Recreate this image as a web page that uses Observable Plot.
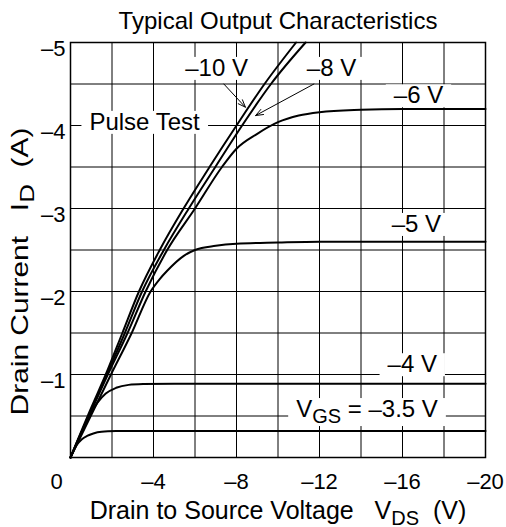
<!DOCTYPE html>
<html>
<head>
<meta charset="utf-8">
<style>
  body { margin: 0; background: #fff; }
  svg text { white-space: pre; }
</style>
<script src="https://cdn.jsdelivr.net/npm/d3@7"></script>
<script src="https://cdn.jsdelivr.net/npm/@observablehq/plot@0.6"></script>
</head>
<body>
<div id="chart"></div>
<script>
// ---- Data (VDS in V, ID in A) ----
const vdsM10 = [0, -1.0, -1.7, -2.5, -3.3, -4.3, -5.45, -6.7, -8.0, -9.35, -10.87];
const idM10  = [0, -0.6, -1.0, -1.5, -2.0, -2.5, -3.0, -3.5, -4.0, -4.5, -5.0];

const vdsM8 = [0, -1.75, -2.62, -3.45, -4.5, -5.7, -6.98, -8.27, -9.66, -11.33];
const idM8  = [0, -1.0, -1.5, -2.0, -2.5, -3.0, -3.5, -4.0, -4.5, -5.0];

const vdsM6 = [0, -1.8, -2.75, -3.62, -4.66, -6.0, -7.3, -8.0, -9.0, -10.0, -11.0, -12.0, -14.0, -16.0, -20.0];
const idM6  = [0, -1.0, -1.5, -2.0, -2.5, -3.0, -3.5, -3.72, -3.9, -4.04, -4.12, -4.16, -4.19, -4.2, -4.2];

const vdsM5 = [0, -1.95, -2.95, -3.86, -4.3, -4.66, -5.46, -6.0, -7.0, -8.0, -10.0, -12.0, -20.0];
const idM5  = [0, -1.0, -1.5, -2.0, -2.15, -2.25, -2.43, -2.5, -2.55, -2.575, -2.59, -2.6, -2.6];

const vdsM4 = [0, -0.5, -0.9, -1.3, -1.7, -2.2, -2.8, -3.5, -5.0, -20.0];
const idM4  = [0, -0.29, -0.5, -0.66, -0.77, -0.84, -0.875, -0.885, -0.89, -0.89];

const vdsM35 = [0, -0.3, -0.55, -0.8, -1.1, -1.5, -2.2, -3.0, -20.0];
const idM35  = [0, -0.15, -0.22, -0.26, -0.29, -0.31, -0.318, -0.32, -0.32];

const vgsNames = ["–10 V", "–8 V", "–6 V", "–5 V", "–4 V", "–3.5 V"];

// axis ticks and grid
const xTicks = [0, -4, -8, -12, -16, -20];
const yTicks = [-1, -2, -3, -4, -5];
const xGrid = [-2, -4, -6, -8, -10, -12, -14, -16, -18];
const yGrid = [-0.5, -1, -1.5, -2, -2.5, -3, -3.5, -4, -4.5];

// annotations
const noteText = ["–10 V", "–8 V", "–6 V", "Pulse Test", "–5 V", "–4 V", "V_{GS} = –3.5 V"];
const noteVds  = [-7.04, -12.58, -16.77, -3.57, -16.67, -16.47, -14.29];
const noteId   = [-4.69, -4.69, -4.36, -4.04, -2.81, -1.12, -0.58];

const arrowVds1 = [-7.39, -11.73];
const arrowId1  = [-4.50, -4.50];
const arrowVds2 = [-8.43, -8.92];
const arrowId2  = [-4.22, -4.12];

const titleText = "Typical Output Characteristics";
const xLabelText = "Drain to Source Voltage   V_{DS}  (V)";
const yLabelText = "Drain Current   I_{D}  (A)";

// ---- Build tables ----
const curveSets = [
  [vgsNames[0], vdsM10, idM10],
  [vgsNames[1], vdsM8, idM8],
  [vgsNames[2], vdsM6, idM6],
  [vgsNames[3], vdsM5, idM5],
  [vgsNames[4], vdsM4, idM4],
  [vgsNames[5], vdsM35, idM35]
];
const rows = curveSets.flatMap(([vgs, xs, ys]) => xs.map((v, i) => ({vgs, vds: v, id: ys[i]})));
const notes = noteText.map((t, i) => ({t, vds: noteVds[i], id: noteId[i]}));
const arrows = arrowVds1.map((v, i) => ({x1: v, y1: arrowId1[i], x2: arrowVds2[i], y2: arrowId2[i]}));

const fmt = d => d === 0 ? "0" : "–" + Math.abs(d);
const FONT = "'Liberation Sans', Arial, Helvetica, sans-serif";

const chart = Plot.plot({
  width: 506,
  height: 527,
  marginLeft: 70,
  marginRight: 21,
  marginTop: 42,
  marginBottom: 70,
  x: {domain: [0, -20]},
  y: {domain: [0, -5]},
  style: {fontFamily: FONT, fontSize: "23px", background: "#fff", color: "#000"},
  marks: [
    Plot.gridX(xGrid, {stroke: "#000", strokeOpacity: 1, strokeWidth: 1}),
    Plot.gridY(yGrid, {stroke: "#000", strokeOpacity: 1, strokeWidth: 1}),
    Plot.axisX(xTicks.filter(d => d !== 0), {tickSize: 0, tickPadding: 16, tickFormat: fmt, label: null, fontSize: 22}),
    Plot.axisX([0], {tickSize: 0, tickPadding: 16, tickFormat: fmt, label: null, fontSize: 22, dx: -14}),
    Plot.axisY(yTicks, {tickSize: 0, tickPadding: 5, tickFormat: fmt, label: null, fontSize: 22, dy: 6}),
    Plot.text(notes, {x: "vds", y: "id", text: "t", fontSize: 24, lineAnchor: "middle", fill: "#000"}),
    Plot.line(rows, {x: "vds", y: "id", z: "vgs", stroke: "#000", strokeWidth: 2, curve: "monotone-x"}),
    Plot.arrow(arrows, {x1: "x1", y1: "y1", x2: "x2", y2: "y2", stroke: "#000", strokeWidth: 1, headLength: 12, headAngle: 42}),
    Plot.frame({stroke: "#000", strokeWidth: 1.5}),
    Plot.text([titleText], {text: d => d, frameAnchor: "top", dy: -21, lineAnchor: "middle", textAnchor: "middle", fontSize: 24}),
    Plot.text([xLabelText], {text: d => d, frameAnchor: "bottom", dy: 53, lineAnchor: "middle", textAnchor: "middle", fontSize: 25}),
    Plot.text([yLabelText], {text: d => d, frameAnchor: "left", dx: -50, dy: 21.5, rotate: -90, lineAnchor: "middle", textAnchor: "middle", fontSize: 23})
  ]
});

document.getElementById("chart").appendChild(chart);

// ---- Post-processing: subscripts and white label boxes ----
const NS = "http://www.w3.org/2000/svg";
const plain = s => s.replace(/_\{([^}]*)\}/g, "$1");
chart.querySelectorAll("text").forEach(el => {
  const s = el.textContent;
  if (!s.includes("_{")) return;
  const fs = parseFloat(el.getAttribute("font-size")) || 23;
  el.textContent = "";
  const parts = s.split(/(_\{[^}]*\})/).filter(p => p.length);
  let down = false;
  for (const p of parts) {
    const ts = document.createElementNS(NS, "tspan");
    if (p.startsWith("_{")) {
      ts.textContent = p.slice(2, -1);
      ts.setAttribute("font-size", Math.round(fs * 0.85));
      ts.setAttribute("dy", "6");
      down = true;
    } else {
      ts.textContent = p;
      if (down) { ts.setAttribute("dy", "-6"); down = false; }
    }
    el.appendChild(ts);
  }
});

// stretch the y-axis title along its length, as in the reference
chart.querySelectorAll("text").forEach(el => {
  if (el.textContent === plain(yLabelText)) {
    const tr = el.getAttribute("transform") || "";
    el.setAttribute("transform", tr + " scale(1.3,1)");
  }
});

const noteSet = new Set(noteText.map(plain));
chart.querySelectorAll("text").forEach(el => {
  if (!noteSet.has(el.textContent)) return;
  const b = el.getBBox();
  const r = document.createElementNS(NS, "rect");
  const px = 8;
  r.setAttribute("x", b.x - px);
  r.setAttribute("y", b.y + 3);
  r.setAttribute("width", b.width + 2 * px);
  r.setAttribute("height", Math.max(0, b.height - 4));
  r.setAttribute("fill", "#fff");
  const tr = el.getAttribute("transform");
  if (tr) r.setAttribute("transform", tr);
  el.parentNode.insertBefore(r, el);
});
</script>
</body>
</html>
